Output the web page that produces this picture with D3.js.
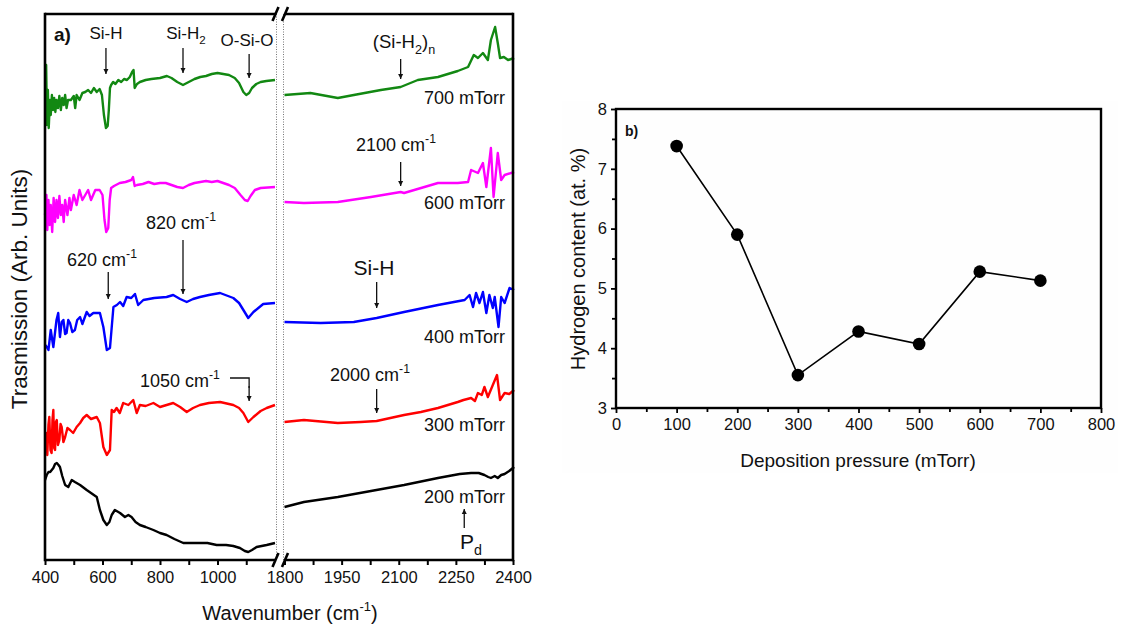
<!DOCTYPE html>
<html>
<head>
<meta charset="utf-8">
<script src="https://d3js.org/d3.v7.min.js"></script>
<style>
  body { margin: 0; background: #fff; }
  text { font-family: "Liberation Sans", Arial, sans-serif; fill: #111; }
</style>
</head>
<body>
<script>
// ---- panel a : FTIR spectra, [wavenumber, transmission a.u.] ----
var spec700 = [[402,440],[404,495],[407,435],[410,470],[413,432],[417,460],[420,445],[424,465],[428,450],[432,462],[436,448],[440,460],[445,452],[450,464],[455,450],[460,462],[465,455],[470,465],[475,452],[480,460],[490,460],[500,464],[505,452],[510,465],[520,460],[530,467],[540,468],[550,470],[560,467],[570,472],[580,468],[590,471],[598,465],[605,445],[612,432],[618,434],[622,450],[626,472],[630,475],[637,478],[645,476],[655,480],[665,478],[675,481],[685,480],[695,483],[703,488],[708,490],[712,472],[720,476],[730,478],[750,480],[770,481],[800,482],[824,484],[840,482],[860,478],[880,475],[900,478],[920,481],[940,483],[960,484],[980,486],[1000,487],[1020,486],[1040,485],[1060,482],[1075,477],[1090,468],[1100,465],[1110,467],[1120,472],[1135,476],[1150,478],[1170,479],[1200,480],
  [1800,465],[1868,467],[1940,462],[1982,465],[2053,470],[2105,473],[2150,480],[2203,483],[2255,489],[2282,493],[2297,505],[2308,502],[2321,507],[2334,500],[2342,520],[2353,533],[2360,517],[2366,502],[2376,503],[2387,500],[2403,502]];

var spec600 = [[400,345],[405,365],[408,330],[412,360],[416,335],[420,355],[425,328],[430,362],[435,338],[440,360],[445,342],[450,364],[455,345],[460,355],[465,338],[470,360],[478,345],[485,362],[490,350],[500,365],[510,355],[520,370],[530,360],[540,365],[550,370],[560,360],[575,370],[590,370],[600,365],[607,340],[613,328],[620,332],[625,360],[630,372],[640,374],[660,377],[680,378],[700,380],[706,383],[712,374],[720,375],[740,376],[760,378],[780,376],[800,377],[820,377],[840,375],[860,373],[880,372],[900,375],[920,377],[940,378],[960,379],[980,378],[1000,379],[1020,377],[1040,375],[1060,372],[1080,365],[1095,360],[1105,359],[1115,364],[1130,370],[1150,372],[1200,373],
  [1800,358],[1851,357],[1940,358],[2027,363],[2105,368],[2114,367],[2203,377],[2255,377],[2282,378],[2290,390],[2308,387],[2321,397],[2330,373],[2342,412],[2349,363],[2360,407],[2369,380],[2378,385],[2403,388]];

var spec400 = [[402,215],[412,210],[420,230],[429,213],[440,240],[446,247],[452,223],[458,238],[464,240],[470,226],[475,227],[481,240],[487,237],[495,228],[504,230],[512,240],[522,243],[530,236],[545,248],[555,244],[568,247],[591,247],[603,233],[615,210],[626,212],[638,253],[650,255],[661,258],[672,254],[684,263],[700,262],[713,266],[724,255],[742,260],[780,262],[823,263],[846,265],[870,261],[893,258],[915,261],[939,263],[970,265],[1009,267],[1055,262],[1075,257],[1090,250],[1107,242],[1125,248],[1159,256],[1200,257],
  [1800,238],[1895,237],[1982,238],[2042,242],[2114,248],[2203,255],[2273,260],[2286,265],[2295,253],[2303,267],[2312,257],[2321,268],[2330,247],[2338,265],[2347,252],[2352,263],[2362,233],[2369,263],[2378,257],[2391,272],[2403,270]];

var spec300 = [[404,120],[406,127],[408,105],[412,135],[415,143],[419,110],[423,107],[426,140],[429,150],[432,112],[435,110],[438,138],[441,140],[445,115],[450,120],[454,136],[458,133],[464,118],[470,123],[478,132],[487,130],[498,127],[510,133],[522,137],[533,142],[545,145],[560,141],[580,143],[591,137],[603,113],[615,105],[626,110],[632,150],[640,148],[649,152],[660,147],[672,157],[690,155],[707,160],[719,147],[730,155],[750,154],[777,157],[800,153],[823,155],[846,157],[870,153],[893,148],[915,152],[939,155],[970,157],[1009,158],[1055,155],[1075,152],[1090,147],[1107,138],[1125,143],[1150,149],[1171,152],[1200,155],
  [1800,138],[1851,140],[1940,137],[2000,138],[2042,139],[2114,145],[2158,148],[2203,152],[2255,158],[2270,160],[2290,162],[2300,159],[2308,167],[2318,165],[2325,173],[2334,163],[2347,175],[2358,185],[2366,160],[2378,167],[2390,166],[2403,170]];

var spec200 = [[400,80],[406,85],[412,88],[418,88],[429,92],[435,96],[441,97],[447,95],[452,93],[460,84],[470,75],[481,73],[493,80],[504,78],[522,75],[545,70],[565,66],[580,63],[591,50],[603,40],[615,35],[624,38],[632,45],[643,50],[661,47],[678,43],[690,45],[701,43],[715,38],[730,35],[750,33],[777,30],[800,27],[823,25],[850,21],[881,17],[910,17],[939,17],[965,17],[997,15],[1030,15],[1055,14],[1078,12],[1095,9],[1107,8],[1120,10],[1136,13],[1171,15],[1200,17],
  [1800,53],[1851,58],[1940,63],[2027,69],[2114,75],[2203,82],[2260,86],[2290,87],[2310,87],[2325,85],[2335,83],[2342,82],[2352,84],[2360,82],[2369,85],[2378,86],[2390,89],[2403,93]];

var spectra = [
  {name: "700 mTorr", color: "#128812", values: spec700},
  {name: "600 mTorr", color: "#ff00ff", values: spec600},
  {name: "400 mTorr", color: "#0000ff", values: spec400},
  {name: "300 mTorr", color: "#ff0000", values: spec300},
  {name: "200 mTorr", color: "#000000", values: spec200}
];

var leftMajor = [400, 600, 800, 1000];
var leftMinor = [500, 700, 900, 1100];
var rightMajor = [1800, 1950, 2100, 2250, 2400];
var rightMinor = [1875, 2025, 2175, 2325];

// ---- panel b : hydrogen content ----
var pressures = [100, 200, 300, 400, 500, 600, 700];
var hydrogen = [7.38, 5.9, 3.55, 4.28, 4.07, 5.28, 5.13];
var bXMajor = [0, 100, 200, 300, 400, 500, 600, 700, 800];
var bXMinor = [50, 150, 250, 350, 450, 550, 650, 750];
var bYMajor = [3, 4, 5, 6, 7, 8];
var bYMinor = [3.5, 4.5, 5.5, 6.5, 7.5];

var W = 1124, H = 625;
var svg = d3.select("body").append("svg").attr("width", W).attr("height", H);

var defs = svg.append("defs");
defs.append("marker").attr("id", "arr")
  .attr("viewBox", "0 0 10 10").attr("refX", 10).attr("refY", 5)
  .attr("markerWidth", 5).attr("markerHeight", 7).attr("markerUnits", "userSpaceOnUse")
  .attr("orient", "auto")
  .append("path").attr("d", "M0,0L10,5L0,10z").attr("fill", "#111");

// ================= panel a =================
var plotTop = 14, plotBottom = 560, plotLeft = 45, plotRight = 513;
var xL = d3.scaleLinear().domain([400, 1200]).range([plotLeft, 275]);
var xR = d3.scaleLinear().domain([1800, 2400]).range([284.5, plotRight]);
var y = d3.scaleLinear().domain([0, 546]).range([plotBottom, plotTop]);

var pa = svg.append("g");

// dotted break guides
[276.5, 283.5].forEach(function(x) {
  pa.append("line").attr("x1", x).attr("x2", x).attr("y1", plotTop).attr("y2", plotBottom)
    .attr("stroke", "#777").attr("stroke-width", 1).attr("stroke-dasharray", "1,1.5");
});

var lineL = d3.line().x(function(d) { return xL(d[0]); }).y(function(d) { return y(d[1]); });
var lineR = d3.line().x(function(d) { return xR(d[0]); }).y(function(d) { return y(d[1]); });

spectra.forEach(function(s) {
  var lo = s.values.filter(function(d) { return d[0] < 1500; });
  var hi = s.values.filter(function(d) { return d[0] > 1500; });
  pa.append("path").attr("d", lineL(lo)).attr("fill", "none")
    .attr("stroke", s.color).attr("stroke-width", 2.4).attr("stroke-linejoin", "round");
  pa.append("path").attr("d", lineR(hi)).attr("fill", "none")
    .attr("stroke", s.color).attr("stroke-width", 2.4).attr("stroke-linejoin", "round");
});

// frame
var frame = pa.append("g").attr("stroke", "#000").attr("stroke-width", 2.6).attr("fill", "none");
frame.append("line").attr("x1", plotLeft).attr("x2", plotLeft).attr("y1", plotTop - 1.3).attr("y2", plotBottom + 1.3);
frame.append("line").attr("x1", plotRight).attr("x2", plotRight).attr("y1", plotTop - 1.3).attr("y2", plotBottom + 1.3);
[plotTop, plotBottom].forEach(function(yy) {
  frame.append("line").attr("x1", plotLeft).attr("x2", 275).attr("y1", yy).attr("y2", yy);
  frame.append("line").attr("x1", 285).attr("x2", plotRight).attr("y1", yy).attr("y2", yy);
  [275.5, 285].forEach(function(cx) {
    frame.append("line").attr("x1", cx - 3).attr("x2", cx + 3).attr("y1", yy + 7).attr("y2", yy - 7);
  });
});

function ticksAxis(g, scale, major, minor) {
  var ax = g.append("g").attr("transform", "translate(0," + plotBottom + ")");
  ax.call(d3.axisBottom(scale).tickValues(major).tickSize(5).tickSizeOuter(0).tickPadding(6).tickFormat(d3.format("d")));
  ax.append("g").call(d3.axisBottom(scale).tickValues(minor).tickSize(5).tickFormat(""));
  ax.selectAll(".domain").remove();
  ax.selectAll("line").attr("stroke", "#000").attr("stroke-width", 2);
  ax.selectAll("text").attr("font-size", 16.5).attr("fill", "#111")
    .style("font-family", "'Liberation Sans', Arial, sans-serif");
}
ticksAxis(pa, xL, leftMajor, leftMinor);
ticksAxis(pa, xR, rightMajor, rightMinor);

// axis titles
var xt = pa.append("text").attr("x", 290).attr("y", 620).attr("text-anchor", "middle").attr("font-size", 20);
xt.append("tspan").text("Wavenumber  (cm");
xt.append("tspan").attr("dy", -9).attr("font-size", 13).text("-1");
xt.append("tspan").attr("dy", 9).text(")");

pa.append("text").attr("transform", "translate(27,289) rotate(-90)")
  .attr("text-anchor", "middle").attr("font-size", 22.5).text("Trasmission (Arb. Units)");

// annotations
function label(x, yy, parts, size, anchor) {
  var t = pa.append("text").attr("x", x).attr("y", yy).attr("font-size", size)
    .attr("text-anchor", anchor || "middle");
  var shift = 0;
  parts.forEach(function(p) {
    var ts = t.append("tspan").text(p[0]);
    var want = p[1] === "sup" ? -size * 0.45 : p[1] === "sub" ? size * 0.3 : 0;
    ts.attr("dy", want - shift);
    if (p[1]) ts.attr("font-size", size * 0.68);
    shift = want;
  });
  return t;
}
function arrow(x1, y1, x2, y2) {
  pa.append("line").attr("x1", x1).attr("y1", y1).attr("x2", x2).attr("y2", y2)
    .attr("stroke", "#111").attr("stroke-width", 1.3).attr("marker-end", "url(#arr)");
}

pa.append("text").attr("x", 54).attr("y", 41).attr("font-size", 19).attr("font-weight", "bold").text("a)");

label(106, 39, [["Si-H"]], 17);
arrow(xL(612), 48, xL(612), 74);
label(186, 39, [["Si-H"], ["2", "sub"]], 17);
arrow(xL(880), 48, xL(880), 73);
label(247, 46, [["O-Si-O"]], 17);
arrow(xL(1110), 54, xL(1110), 78);

label(404, 48, [["(Si-H"], ["2", "sub"], [")"], ["n", "sub"]], 18.5);
arrow(xR(2105), 59, xR(2105), 79);
label(396, 151, [["2100 cm"], ["-1", "sup"]], 18);
arrow(xR(2105), 162, xR(2105), 186);

label(181, 229, [["820 cm"], ["-1", "sup"]], 18);
arrow(xL(880), 240, xL(880), 294);
label(102, 266, [["620 cm"], ["-1", "sup"]], 18);
arrow(xL(620), 272, xL(620), 299);

label(374, 275, [["Si-H"]], 21);
arrow(xR(2042), 282, xR(2042), 308);

label(140, 387, [["1050 cm"], ["-1", "sup"]], 18, "start");
pa.append("polyline").attr("points", [[230, 378], [xL(1110), 378], [xL(1110), 388]].join(" "))
  .attr("fill", "none").attr("stroke", "#111").attr("stroke-width", 1.3);
arrow(xL(1110), 386, xL(1110), 401);

label(370, 381, [["2000 cm"], ["-1", "sup"]], 18);
arrow(xR(2042), 389, xR(2042), 413);

var pressureY = [104, 209, 343, 431, 503];
spectra.forEach(function(s, i) {
  label(505, pressureY[i], [[s.name]], 18, "end");
});

label(471, 549, [["P"], ["d", "sub"]], 21);
arrow(xR(2272), 528, xR(2272), 509);

// ================= panel b =================
var bx = d3.scaleLinear().domain([0, 800]).range([616, 1101]);
var by = d3.scaleLinear().domain([3, 8]).range([408, 109]);
var pb = svg.append("g");

pb.append("rect").attr("x", 562).attr("y", 101).attr("width", 556).attr("height", 372).attr("fill", "#fefefe");

var gx = pb.append("g").attr("transform", "translate(0,408)");
gx.call(d3.axisBottom(bx).tickValues(bXMajor).tickSize(5).tickSizeOuter(0).tickPadding(5));
gx.append("g").call(d3.axisBottom(bx).tickValues(bXMinor).tickSize(4).tickFormat(""));
var gy = pb.append("g").attr("transform", "translate(616,0)");
gy.call(d3.axisLeft(by).tickValues(bYMajor).tickSize(5).tickSizeOuter(0).tickPadding(4).tickFormat(d3.format("d")));
gy.append("g").call(d3.axisLeft(by).tickValues(bYMinor).tickSize(4).tickFormat(""));
pb.selectAll(".domain").remove();
pb.selectAll(".tick line").attr("stroke", "#000").attr("stroke-width", 1.8);
pb.selectAll(".tick text").attr("font-size", 16.5).attr("fill", "#111")
  .style("font-family", "'Liberation Sans', Arial, sans-serif");

pb.append("rect").attr("x", 616).attr("y", 109).attr("width", 485).attr("height", 299)
  .attr("fill", "none").attr("stroke", "#000").attr("stroke-width", 2.4);

var pts = pressures.map(function(p, i) { return [p, hydrogen[i]]; });
pb.append("path").attr("d", d3.line().x(function(d) { return bx(d[0]); }).y(function(d) { return by(d[1]); })(pts))
  .attr("fill", "none").attr("stroke", "#000").attr("stroke-width", 1.6);
pb.selectAll("circle.pt").data(pts).enter().append("circle")
  .attr("cx", function(d) { return bx(d[0]); })
  .attr("cy", function(d) { return by(d[1]); })
  .attr("r", 6.3).attr("fill", "#000");

pb.append("text").attr("x", 625).attr("y", 136).attr("font-size", 14).attr("font-weight", "bold").text("b)");
pb.append("text").attr("x", 858).attr("y", 467).attr("text-anchor", "middle").attr("font-size", 19)
  .text("Deposition pressure (mTorr)");
pb.append("text").attr("transform", "translate(585,259) rotate(-90)").attr("text-anchor", "middle")
  .attr("font-size", 20).text("Hydrogen content (at. %)");
</script>
</body>
</html>
